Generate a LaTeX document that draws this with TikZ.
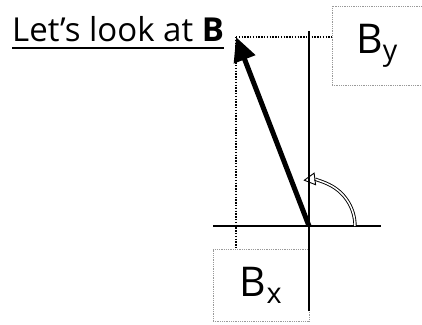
\documentclass[tikz,border=0pt]{standalone}
\usepackage{fontspec}
\setmainfont{Open Sans}
\usetikzlibrary{arrows.meta}
\begin{document}
\begin{tikzpicture}[x=1pt,y=1pt,
   compbox/.style={draw=gray!80,densely dotted,line width=0.8pt,inner sep=0pt,
                   font=\fontsize{41}{41}\selectfont},
   axis/.style={line width=1.4pt},
   proj/.style={dash pattern=on 1.4pt off 1.4pt,line width=1.4pt}]
   \useasboundingbox (0,0) rectangle (422,324);
   \coordinate (O) at (309,98);
   \coordinate (tip) at (236,287);
   \coordinate (ytop) at (309,293);
   \coordinate (ybot) at (309,13);
   \coordinate (xl) at (213,98);
   \coordinate (xr) at (381,98);
   \node[anchor=base west,inner sep=0pt,font=\fontsize{33}{33}\selectfont] (title) at (12,282) {Let’s look at \textbf{B}};
   \draw[line width=2pt] ([yshift=-6]title.base west) -- ([yshift=-6]title.base east);
   \node[compbox,minimum width=90,minimum height=79] (By) at (377,278.5) {B\textsubscript{y}};
   \node[compbox,minimum width=96,minimum height=72] (Bx) at (261,39) {B\textsubscript{x}};
   % axes
   \draw[axis] (xl) -- (xr);
   \draw[axis] (ybot) -- (ytop);
   % components
   \draw[proj] (tip) -- (tip -| By.west);
   \draw[proj] (tip) -- (tip |- Bx.north);
   % vector and angle
   \draw[line width=5pt,-{Triangle[length=24pt,width=22pt]}] (O) -- (tip);
   \draw[double,line width=0.9pt,double distance=1.5pt,-{Triangle[open,length=12pt,width=13pt]}]
     ([shift={(0:46)}]O) arc[start angle=0,end angle=97,radius=46];
\end{tikzpicture}
\end{document}
